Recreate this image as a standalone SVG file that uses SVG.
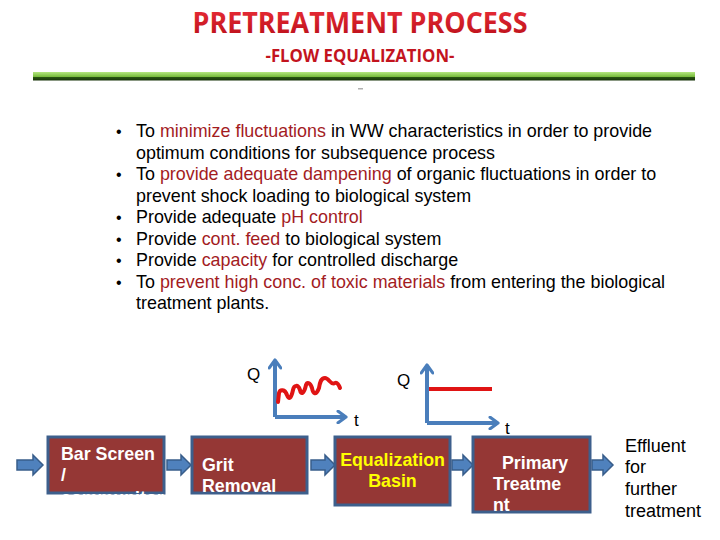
<svg xmlns="http://www.w3.org/2000/svg" width="720" height="540" viewBox="0 0 720 540">
<defs>
  <linearGradient id="titleGrad" x1="0" y1="0" x2="0" y2="1">
    <stop offset="0" stop-color="#f2323c"/>
    <stop offset="1" stop-color="#b50c17"/>
  </linearGradient>
  <linearGradient id="barGrad" x1="0" y1="0" x2="0" y2="1">
    <stop offset="0" stop-color="#b4e680"/>
    <stop offset="0.55" stop-color="#78bc3c"/>
    <stop offset="0.56" stop-color="#2b5a12"/>
    <stop offset="1" stop-color="#163208"/>
  </linearGradient>
  <marker id="vhead" viewBox="0 0 10 10" refX="7" refY="5" markerWidth="3.6" markerHeight="3.6" orient="auto" markerUnits="strokeWidth">
    <path d="M1.5,1 L7,5 L1.5,9" fill="none" stroke="#4a7ebb" stroke-width="2.2" stroke-linecap="round" stroke-linejoin="round"/>
  </marker>
  <clipPath id="clipBox1"><rect x="46" y="435" width="120" height="60"/></clipPath>
  <clipPath id="clipBox4"><rect x="471" y="435" width="121" height="79"/></clipPath>
</defs>
<style>
  .body{font-family:"Liberation Sans",Arial,sans-serif;font-size:17.9px;fill:#000}
  .hl{fill:#a31c1f}
  .box{fill:#953735;stroke:#3d5f8c;stroke-width:3}
  .bt{font-family:"Liberation Sans",Arial,sans-serif;font-size:17.8px;font-weight:bold;fill:#ffffff}
  .yt{fill:#ffff00}
  .blk{fill:#4f81bd;stroke:#385d8a;stroke-width:1.5}
  .axis{fill:none;stroke:#4a7ebb;stroke-width:4}
  .sig{fill:none;stroke:#e01414;stroke-width:4;stroke-linecap:round;stroke-linejoin:round}
  .lbl{font-family:"Liberation Sans",Arial,sans-serif;font-size:17px;fill:#000}
  .eff{font-family:"Liberation Sans",Arial,sans-serif;font-size:18px;fill:#000}
</style>

<rect x="0" y="0" width="720" height="540" fill="#ffffff"/>

<!-- Title -->
<g id="title">
  <text x="360" y="33" text-anchor="middle" font-family="'Open Sans',sans-serif" font-weight="700" font-size="29" fill="url(#titleGrad)" textLength="335" lengthAdjust="spacingAndGlyphs">PRETREATMENT PROCESS</text>
  <text x="360" y="62" text-anchor="middle" font-family="'Open Sans',sans-serif" font-weight="700" font-size="17" fill="#c3141e" textLength="189" lengthAdjust="spacingAndGlyphs">-FLOW EQUALIZATION-</text>
  <rect x="33" y="72" width="662" height="8.5" fill="url(#barGrad)"/>
  <rect x="358" y="88" width="5" height="1.5" fill="#b0b0b0"/>
</g>

<!-- Bullet list -->
<g id="bullets" class="body">
  <text x="116" y="137" font-size="16">•</text>
  <text x="116" y="180" font-size="16">•</text>
  <text x="116" y="223" font-size="16">•</text>
  <text x="116" y="244.5" font-size="16">•</text>
  <text x="116" y="266" font-size="16">•</text>
  <text x="116" y="287.5" font-size="16">•</text>
  <text x="136" y="137">To <tspan class="hl">minimize fluctuations</tspan> in WW characteristics in order to provide</text>
  <text x="136" y="158.5">optimum conditions for subsequence process</text>
  <text x="136" y="180">To <tspan class="hl">provide adequate dampening</tspan> of organic fluctuations in order to</text>
  <text x="136" y="201.5">prevent shock loading to biological system</text>
  <text x="136" y="223">Provide adequate <tspan class="hl">pH control</tspan></text>
  <text x="136" y="244.5">Provide <tspan class="hl">cont. feed</tspan> to biological system</text>
  <text x="136" y="266">Provide <tspan class="hl">capacity</tspan> for controlled discharge</text>
  <text x="136" y="287.5">To <tspan class="hl">prevent high conc. of toxic materials</tspan> from entering the biological</text>
  <text x="136" y="309">treatment plants.</text>
</g>

<!-- Graph 1: fluctuating flow -->
<g id="graph1">
  <path class="axis" d="M275,417 L275,360" marker-end="url(#vhead)"/>
  <path class="axis" d="M275,417 L346,417" marker-end="url(#vhead)"/>
  <path class="sig" d="M278,402 L279,393 C280,389 285,389 287,395 C289,400 291,399 293,390 C294,385 298,384 300,390 C301,395 304,394 306,385 C307,382 310,382 312,388 C313,394 316,396 319,388 C320,382 321,378 325,378 C329,378 331,386 335,383 C337,382 339,385 340,388"/>
  <text class="lbl" x="247" y="380">Q</text>
  <text class="lbl" x="354" y="426">t</text>
</g>

<!-- Graph 2: equalized flow -->
<g id="graph2">
  <path class="axis" d="M427,423 L427,365" marker-end="url(#vhead)"/>
  <path class="axis" d="M427,423 L498,423" marker-end="url(#vhead)"/>
  <path d="M429,389 L492,389" fill="none" stroke="#e01414" stroke-width="4"/>
  <text class="lbl" x="397" y="386">Q</text>
  <text class="lbl" x="505" y="434">t</text>
</g>

<!-- Connectors (block arrows) -->
<g id="connectors">
  <path class="blk" d="M17,460 L33,460 L33,455 L43,465 L33,475 L33,470 L17,470 Z"/>
  <path class="blk" d="M167,460 L181,460 L181,455 L191,465 L181,475 L181,470 L167,470 Z"/>
  <path class="blk" d="M311,460 L325,460 L325,455 L335,465 L325,475 L325,470 L311,470 Z"/>
  <path class="blk" d="M452,460 L463,460 L463,455 L473,465 L463,475 L463,470 L452,470 Z"/>
  <path class="blk" d="M592,460 L603,460 L603,455 L613,465 L603,475 L603,470 L592,470 Z"/>
</g>

<!-- Process boxes -->
<g id="box-bar-screen">
  <rect class="box" x="48" y="437" width="116" height="56"/>
  <g clip-path="url(#clipBox1)">
    <text class="bt" x="61" y="460">Bar Screen</text>
    <text class="bt" x="61" y="481">/</text>
    <text class="bt" x="61" y="504">communitor</text>
  </g>
</g>
<g id="box-grit">
  <rect class="box" x="192" y="437" width="115" height="56"/>
  <text class="bt" x="202" y="471">Grit</text>
  <text class="bt" x="202" y="492">Removal</text>
</g>
<g id="box-equalization">
  <rect class="box" x="335" y="437" width="115" height="68"/>
  <text class="bt yt" x="392.5" y="466" text-anchor="middle">Equalization</text>
  <text class="bt yt" x="392.5" y="487" text-anchor="middle">Basin</text>
</g>
<g id="box-primary">
  <rect class="box" x="473" y="437" width="117" height="75"/>
  <g clip-path="url(#clipBox4)">
    <text class="bt" x="502" y="469">Primary</text>
    <text class="bt" x="493" y="490">Treatme</text>
    <text class="bt" x="493" y="511">nt</text>
  </g>
</g>
<g id="effluent">
  <text class="eff" x="625" y="452">Effluent</text>
  <text class="eff" x="625" y="473">for</text>
  <text class="eff" x="625" y="495">further</text>
  <text class="eff" x="625" y="517">treatment</text>
</g>
</svg>
